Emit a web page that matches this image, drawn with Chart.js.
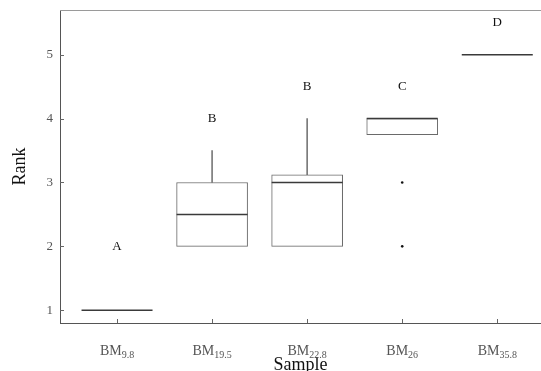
<!DOCTYPE html>
<html>
<head>
<meta charset="utf-8">
<script src="https://cdn.jsdelivr.net/npm/chart.js@4.4.0/dist/chart.umd.min.js"></script>
<style>
  html, body { margin: 0; padding: 0; background: #fff; }
  #wrap { width: 541px; height: 371px; }
</style>
</head>
<body>
<div id="wrap"><canvas id="box"></canvas></div>
<script>
// samples and their box statistics (rank)
const samples = ["9.8", "19.5", "22.8", "26", "35.8"];
const q1 = [1, 2, 2, 3.75, 5];
const median = [1, 2.5, 3, 4, 5];
const q3 = [1, 3, 3.12, 4, 5];
const upper = [1, 3.5, 4, 4, 5];
const outliers = [[], [], [], [3, 2], []];
const letters = ["A", "B", "B", "C", "D"];
const letterRank = [2, 4, 4.5, 4.5, 5.5];
const yTicks = [1, 2, 3, 4, 5];

const serif = "'Liberation Serif', 'DejaVu Serif', serif";

const boxData = samples.map((s, i) => ({ x: i, y: [q1[i], q3[i]] }));
const whiskerData = samples.map((s, i) => ({ x: i, y: [q3[i], upper[i]] }))
  .filter(d => d.y[1] > d.y[0]);
const medianData = samples.map((s, i) => ({ x: i, y: median[i] }));
const outlierData = [];
outliers.forEach((arr, i) => arr.forEach(v => outlierData.push({ x: i, y: v })));

const decor = {
  id: "decor",
  afterDraw(chart) {
    const c = chart.ctx, xs = chart.scales.x, ys = chart.scales.y, a = chart.chartArea;
    c.save();
    // top frame line
    c.strokeStyle = "#9a9a9a";
    c.lineWidth = 1;
    c.beginPath(); c.moveTo(a.left, a.top + 0.5); c.lineTo(a.right, a.top + 0.5); c.stroke();
    // inward ticks
    c.strokeStyle = "#666";
    yTicks.forEach(v => {
      const y = Math.round(ys.getPixelForValue(v)) + 0.5;
      c.beginPath(); c.moveTo(a.left, y); c.lineTo(a.left + 4, y); c.stroke();
    });
    samples.forEach((s, i) => {
      const x = Math.round(xs.getPixelForValue(i)) + 0.5;
      c.beginPath(); c.moveTo(x, a.bottom); c.lineTo(x, a.bottom - 4); c.stroke();
    });
    // x labels with subscripts
    c.fillStyle = "#555";
    c.textBaseline = "alphabetic";
    samples.forEach((s, i) => {
      const x = xs.getPixelForValue(i);
      c.font = "14px " + serif;
      const w1 = c.measureText("BM").width;
      c.font = "10px " + serif;
      const w2 = c.measureText(s).width;
      const x0 = x - (w1 + w2) / 2;
      c.font = "14px " + serif;
      c.fillText("BM", x0, 355);
      c.font = "10px " + serif;
      c.fillText(s, x0 + w1, 358);
    });
    // significance letters
    c.fillStyle = "#111";
    c.font = "13px " + serif;
    c.textAlign = "center";
    c.textBaseline = "middle";
    letters.forEach((l, i) => {
      c.fillText(l, xs.getPixelForValue(i), ys.getPixelForValue(letterRank[i]));
    });
    c.restore();
  }
};

new Chart(document.getElementById("box"), {
  type: "bar",
  data: {
    datasets: [
      {
        data: boxData,
        backgroundColor: "#ffffff",
        borderColor: "#6a6a6a",
        borderWidth: 1,
        borderSkipped: false,
        barThickness: 71,
        grouped: false,
        order: 3
      },
      {
        data: whiskerData,
        backgroundColor: "#7a7a7a",
        borderWidth: 0,
        barThickness: 1,
        grouped: false,
        order: 4
      },
      {
        type: "scatter",
        data: medianData,
        pointStyle: "line",
        radius: 35.5,
        borderColor: "#3a3a3a",
        borderWidth: 1.5,
        order: 1
      },
      {
        type: "scatter",
        data: outlierData,
        pointStyle: "circle",
        radius: 1.3,
        backgroundColor: "#111",
        borderWidth: 0,
        order: 0
      }
    ]
  },
  options: {
    responsive: true,
    maintainAspectRatio: false,
    animation: false,
    layout: { autoPadding: false, padding: { top: 10, right: 0, left: 0, bottom: 0 } },
    plugins: { legend: { display: false }, tooltip: { enabled: false } },
    scales: {
      x: {
        type: "linear",
        offset: false,
        min: -0.6,
        max: 4.46,
        afterBuildTicks: s => { s.ticks = samples.map((v, i) => ({ value: i })); },
        afterFit: s => { s.height = 48; },
        grid: { display: false },
        border: { color: "#555", width: 1 },
        ticks: { display: false },
        title: {
          display: true,
          text: "Sample",
          color: "#111",
          font: { family: serif, size: 18 },
          padding: { top: 0, bottom: -5 }
        }
      },
      y: {
        min: 0.8,
        max: 5.7,
        afterBuildTicks: s => { s.ticks = yTicks.map(v => ({ value: v })); },
        afterFit: s => { s.width = 60; },
        grid: { display: false },
        border: { color: "#555", width: 1 },
        ticks: {
          color: "#555",
          padding: -1,
          font: { family: serif, size: 13 }
        },
        title: {
          display: true,
          text: "Rank",
          color: "#111",
          font: { family: serif, size: 18 },
          padding: { top: 9, bottom: 0 }
        }
      }
    }
  },
  plugins: [decor]
});
</script>
</body>
</html>
